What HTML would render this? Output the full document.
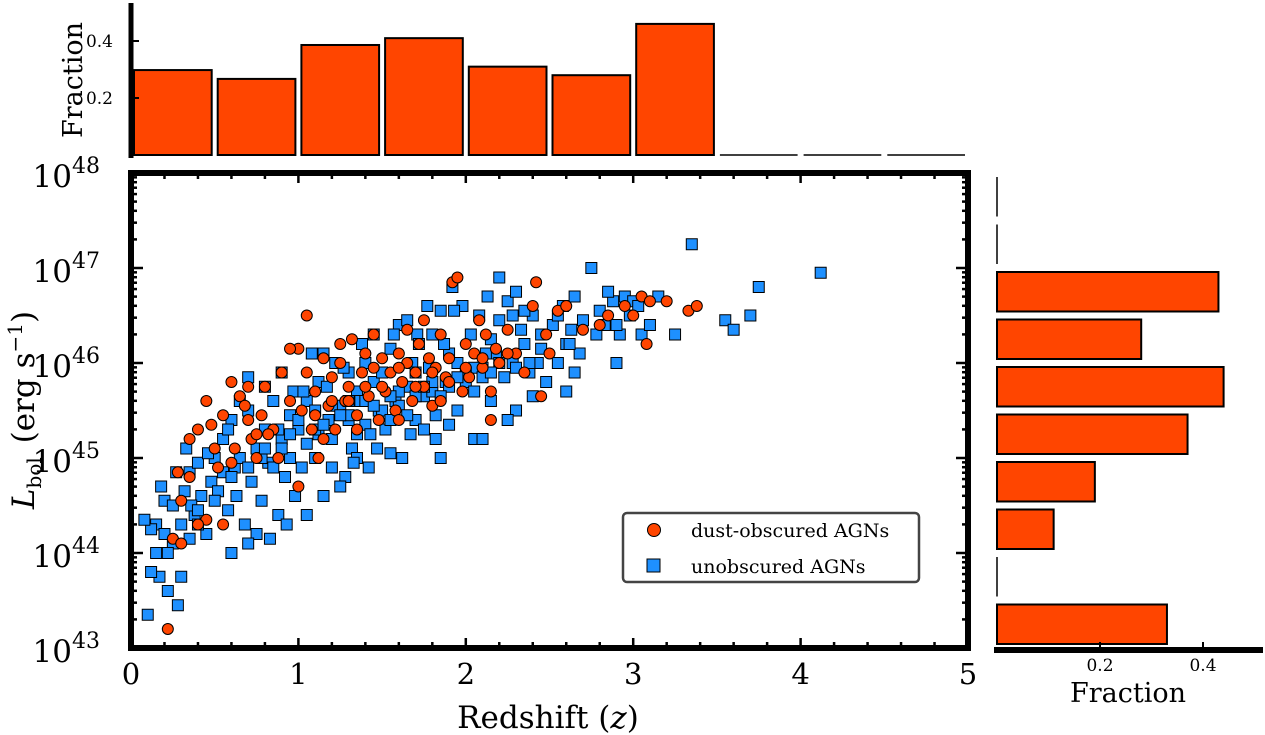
<!DOCTYPE html>
<html><head><meta charset="utf-8"><style>
html,body{margin:0;padding:0;background:#fff;}
svg{display:block;font-family:"DejaVu Serif","Liberation Serif",serif;}
</style></head><body>
<svg id="c" width="1265" height="735" viewBox="0 0 1265 735" xmlns="http://www.w3.org/2000/svg"></svg>
<script>
const zBinFrac=[0.298,0.267,0.386,0.41,0.31,0.28,0.46,0,0,0];
const lBinFrac=[0.33,0,0.11,0.19,0.37,0.44,0.28,0.43,0,0];
const xTicks=[0,1,2,3,4,5];
const yTicks=[43,44,45,46,47,48];
const fracTicks=[0.2,0.4];
const blueZ=[0.1,0.15,0.17,0.2,0.22,0.25,0.28,0.3,0.15,0.12,0.2,0.25,0.3,0.32,0.35,0.38,0.4,0.33,0.42,0.45,0.48,0.5,0.27,0.36,0.22,0.18,0.4,0.46,0.12,0.08,
0.52,0.55,0.58,0.6,0.62,0.65,0.68,0.7,0.72,0.75,0.78,0.8,0.82,0.85,0.88,0.9,0.92,0.95,0.98,0.6,0.7,0.8,0.9,0.75,0.85,0.95,0.55,0.65,0.88,0.63,0.78,0.58,0.93,0.97,0.83,0.7,
1.0,1.02,1.05,1.08,1.1,1.12,1.15,1.18,1.2,1.22,1.25,1.28,1.3,1.32,1.35,1.38,1.4,1.42,1.45,1.48,1.05,1.15,1.25,1.35,1.45,1.1,1.2,1.3,1.4,1.12,1.27,1.37,1.47,1.03,1.17,1.33,1.43,
1.5,1.52,1.55,1.58,1.6,1.62,1.65,1.68,1.7,1.71,1.72,1.75,1.78,1.8,1.82,1.85,1.88,1.9,1.92,1.95,1.98,1.55,1.65,1.75,1.85,1.95,1.6,1.7,1.8,1.9,1.93,1.57,1.67,1.77,1.87,
2.0,2.03,2.05,2.08,2.1,2.13,2.15,2.18,2.2,2.23,2.25,2.28,2.3,2.33,2.35,2.38,2.4,2.43,2.45,2.48,2.1,2.2,2.3,2.4,2.15,2.25,2.35,2.45,2.05,2.28,
2.52,2.55,2.58,2.6,2.63,2.65,2.68,2.7,2.75,2.78,2.8,2.83,2.88,2.9,2.92,2.95,2.98,2.55,2.65,2.85,2.9,2.6,
3.0,3.05,3.1,3.15,3.25,3.35,3.55,3.6,3.7,3.75,4.12,3.03,
0.9,1.0,1.1,1.2,1.3,1.4,1.5,1.6,1.7,1.8,1.9,2.0,2.1,2.2,2.3,0.95,1.05,1.15,1.25,1.35,1.45,1.55,1.65,1.75,1.85,1.95,2.05,2.15,0.8,0.7,0.6,0.5,0.4,0.35,1.3,1.55,1.82,2.12,2.38,2.62];
const blueL=[43.35,44.3,43.75,44.55,43.6,44.1,43.45,43.75,44.0,43.8,44.2,44.5,44.3,44.65,44.85,44.4,44.95,45.1,44.6,44.2,44.75,45.0,44.85,44.5,44.0,44.7,44.3,45.05,44.25,44.35,
44.65,45.2,44.45,45.4,44.9,45.0,44.3,45.5,44.75,45.1,44.55,45.3,44.95,45.6,44.4,45.2,44.8,45.45,44.6,44.0,45.85,45.75,45.9,44.2,44.9,45.0,44.85,45.6,45.3,44.6,45.0,45.3,44.3,45.7,44.15,44.1,
45.3,44.9,45.6,46.1,45.0,45.8,44.6,45.4,45.2,46.0,45.55,44.8,45.9,45.1,45.7,46.2,45.35,44.9,45.8,45.5,44.4,46.1,44.7,45.0,46.3,45.5,44.9,45.4,46.0,45.25,45.95,45.6,45.1,45.7,45.75,44.95,45.25,
45.9,45.3,46.15,45.6,46.4,45.0,45.75,46.0,45.4,46.3,46.2,45.65,45.95,46.3,45.2,46.55,45.8,46.1,46.8,45.5,46.6,45.05,46.45,45.3,45.0,46.0,45.55,45.9,45.7,45.35,46.55,46.3,45.25,46.6,46.2,
45.8,46.3,45.2,46.5,45.95,46.7,45.6,46.1,46.45,45.85,46.65,46.0,45.5,46.35,46.2,45.9,46.5,46.0,46.3,45.8,45.2,46.9,46.75,45.65,46.25,45.4,46.55,46.15,45.95,46.5,
46.4,46.0,46.6,46.2,46.35,46.7,46.1,46.45,47.0,46.3,46.55,46.4,46.65,46.0,46.3,46.7,46.5,46.5,45.9,46.75,46.4,45.7,
46.65,46.3,46.4,46.7,46.3,47.25,46.45,46.35,46.5,46.8,46.95,46.6,
45.1,45.4,45.3,45.55,45.45,45.6,45.5,45.7,45.65,45.8,45.75,45.9,45.85,46.0,45.95,45.25,45.15,45.35,45.45,45.25,45.55,45.65,45.45,45.75,45.65,45.85,45.7,45.9,45.1,44.9,44.8,44.55,44.45,44.15,45.6,45.4,45.45,46.1,46.0,46.2];
const redZ=[0.22,0.25,0.28,0.3,0.35,0.4,0.45,0.48,0.45,0.5,0.55,0.6,0.65,0.68,0.7,0.72,0.75,0.78,0.8,0.85,0.9,0.95,1.0,1.02,1.05,1.08,1.1,1.12,1.15,1.18,1.2,1.22,1.25,1.28,1.3,1.32,1.35,1.38,1.4,1.42,1.45,1.48,1.5,1.52,1.55,1.58,1.6,1.62,1.65,1.68,1.7,1.72,1.75,1.78,1.8,1.82,1.85,1.88,1.9,1.92,1.95,1.98,2.0,2.02,2.05,2.08,2.1,2.12,2.15,2.18,2.2,2.25,2.3,2.35,2.4,2.42,2.45,2.5,2.55,2.6,2.7,2.8,2.85,2.95,3.0,3.05,3.08,3.1,3.2,3.33,3.38,1.0,0.88,1.15,1.35,1.6,1.45,1.25,0.82,0.6,0.7,0.35,0.4,0.3,0.52,0.55,0.62,1.65,1.75,1.85,2.25,2.15,2.48,1.05,0.95,0.75,1.1,1.3,1.5,1.7,1.9,2.1,1.2,1.4,1.6,1.8,2.0];
const redL=[43.2,44.15,44.85,44.55,45.2,45.3,45.6,45.35,44.35,45.1,45.45,44.95,45.65,45.55,45.75,45.2,45.0,45.45,45.75,45.3,45.9,45.6,46.15,45.5,45.9,45.3,45.7,45.0,46.05,45.55,45.85,45.3,46.0,45.6,45.75,46.25,45.45,45.9,46.1,45.65,45.95,45.4,46.05,45.7,45.9,45.5,46.1,45.8,46.0,45.6,45.9,46.2,45.75,46.05,45.55,45.95,46.3,45.85,46.05,46.85,46.9,45.7,46.2,45.85,46.1,46.45,45.95,46.3,45.7,46.15,46.0,46.35,46.1,45.9,46.6,46.85,45.65,46.1,46.55,46.6,46.35,46.4,46.5,46.6,46.5,46.7,46.2,46.65,46.65,46.55,46.6,44.7,45.0,45.2,45.3,45.4,46.3,46.2,45.25,45.8,45.4,44.8,44.3,44.1,44.9,44.3,45.1,46.35,46.45,45.6,46.1,45.4,46.3,46.5,46.15,45.25,45.45,45.6,45.75,45.75,45.8,46.05,45.6,45.75,45.95,45.9,45.95];

const NS="http://www.w3.org/2000/svg";
const svg=document.getElementById('c');
function mk(tag,attrs,parent){const e=document.createElementNS(NS,tag);for(const k in attrs)e.setAttribute(k,attrs[k]);(parent||svg).appendChild(e);return e;}
const X0=131,X1=968,Y0=648,Y1=173;
const sx=z=>X0+(z-0)/5*(X1-X0);
const sy=l=>Y0-(l-43)/5*(Y0-Y1);
const hy=f=>155-f*285;
const hx=f=>997+f*515;

const gTop=mk('g',{});


zBinFrac.forEach((f,i)=>{
  const xa=sx(i*0.5),xb=sx((i+1)*0.5);
  if(f>0){
    const r=mk('rect',{x:xa+3,y:hy(f),width:xb-xa-6,height:155-hy(f),fill:'#ff4500',stroke:'#000','stroke-width':2},gTop);
    
    
  } else {
    const r=mk('line',{x1:xa+3,x2:xb-3,y1:155,y2:155,stroke:'#000','stroke-width':1.5},gTop);
    
    
  }
});
mk('line',{x1:131,x2:131,y1:3,y2:158,stroke:'#000','stroke-width':5},gTop);
fracTicks.forEach(t=>{
  mk('line',{x1:131,x2:139,y1:hy(t),y2:hy(t),stroke:'#000','stroke-width':2},gTop);
  const tx=mk('text',{x:113,y:hy(t)+6,'font-size':17,'text-anchor':'end'},gTop);tx.textContent=t.toFixed(1);
  
  
});
const tf=mk('text',{x:0,y:0,'font-size':27,'text-anchor':'middle',transform:'translate(82,80) rotate(-90)'},gTop);tf.textContent='Fraction';



const gR=mk('g',{});


lBinFrac.forEach((f,i)=>{
  const ya=sy(43+i*0.5),yb=sy(43+(i+1)*0.5);
  if(f>0){
    const r=mk('rect',{x:997,y:yb+4,width:hx(f)-997,height:ya-yb-8,fill:'#ff4500',stroke:'#000','stroke-width':2},gR);
    
    
  } else {
    const r=mk('line',{x1:997,x2:997,y1:yb+4,y2:ya-4,stroke:'#000','stroke-width':1.5},gR);
    
    
  }
});
mk('line',{x1:994,x2:1263,y1:650,y2:650,stroke:'#000','stroke-width':6},gR);
fracTicks.forEach(t=>{
  mk('line',{x1:hx(t),x2:hx(t),y1:650,y2:642,stroke:'#000','stroke-width':2},gR);
  const tx=mk('text',{x:hx(t),y:671,'font-size':17,'text-anchor':'middle'},gR);tx.textContent=t.toFixed(1);
  
  
});
const rf=mk('text',{x:1128,y:702,'font-size':27,'text-anchor':'middle'},gR);rf.textContent='Fraction';



const gM=mk('g',{});


blueZ.forEach((z,i)=>{
  const p=mk('rect',{x:sx(z)-5.5,y:sy(blueL[i])-5.5,width:11,height:11,fill:'#1e90ff',stroke:'#000','stroke-width':1},gM);
  
  
});
redZ.forEach((z,i)=>{
  const p=mk('circle',{cx:sx(z),cy:sy(redL[i]),r:5.5,fill:'#ff4500',stroke:'#000','stroke-width':1},gM);
  
  
});
mk('rect',{x:X0,y:Y1,width:X1-X0,height:Y0-Y1,fill:'none',stroke:'#000','stroke-width':6},gM);
for(let z=0;z<=5.001;z+=0.2){
  const maj=Math.abs(z-Math.round(z))<0.01;const L=maj?10:6;
  mk('line',{x1:sx(z),x2:sx(z),y1:Y0,y2:Y0-L,stroke:'#000','stroke-width':2.5},gM);
  mk('line',{x1:sx(z),x2:sx(z),y1:Y1,y2:Y1+L,stroke:'#000','stroke-width':2.5},gM);
}
xTicks.forEach(t=>{
  const tx=mk('text',{x:sx(t),y:684,'font-size':29,'text-anchor':'middle'});tx.textContent=t;
  
  
});
for(let d=43;d<48;d++){
  for(let m=1;m<10;m++){
    const v=d+Math.log10(m);const L=m===1?12:6;
    mk('line',{x1:X0,x2:X0+L,y1:sy(v),y2:sy(v),stroke:'#000','stroke-width':2.5},gM);
    mk('line',{x1:X1,x2:X1-L,y1:sy(v),y2:sy(v),stroke:'#000','stroke-width':2.5},gM);
  }
}
yTicks.forEach(t=>{
  const tx=mk('text',{x:100,y:sy(t)+14,'font-size':31,'text-anchor':'end'});
  
  
  tx.appendChild(document.createTextNode('10'));
  const s=mk('tspan',{dy:-14,'font-size':22},tx);s.textContent=String(t);
});
const xt=mk('text',{x:548,y:728,'font-size':31,'text-anchor':'middle'});


xt.innerHTML='Redshift (<tspan font-style="italic">z</tspan>)';
const yt=mk('text',{x:0,y:0,'font-size':31,'text-anchor':'middle',transform:'translate(34,410) rotate(-90)'});


yt.innerHTML='<tspan font-style="italic">L</tspan><tspan font-size="20" dy="7">bol</tspan><tspan dy="-7" dx="4"> (erg s</tspan><tspan font-size="20" dy="-12">−1</tspan><tspan dy="12">)</tspan>';

const lg=mk('g',{});


mk('rect',{x:623,y:513,width:296,height:69,rx:4,fill:'#fff',stroke:'#444','stroke-width':2.5},lg);
const l1=mk('circle',{cx:654,cy:530,r:6.5,fill:'#ff4500',stroke:'#000','stroke-width':1},lg);


const t1=mk('text',{x:691,y:537,'font-size':19},lg);t1.textContent='dust-obscured AGNs';


const l2=mk('rect',{x:647,y:559,width:13,height:13,fill:'#1e90ff',stroke:'#000','stroke-width':1},lg);


const t2=mk('text',{x:691,y:573,'font-size':19},lg);t2.textContent='unobscured AGNs';


</script>
</body></html>
